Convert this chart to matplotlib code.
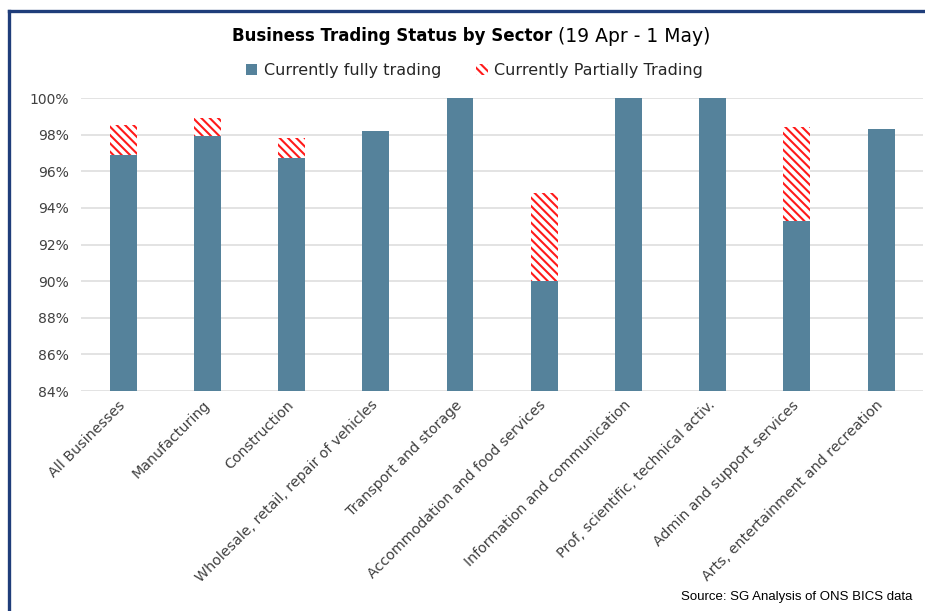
import matplotlib
matplotlib.use("Agg")
import matplotlib.pyplot as plt
import matplotlib.transforms as mtransforms
from matplotlib.patches import Patch
from matplotlib.lines import Line2D

# Sector shares of businesses trading, 19 Apr - 1 May
sectors = [
    "All Businesses",
    "Manufacturing",
    "Construction",
    "Wholesale, retail, repair of vehicles",
    "Transport and storage",
    "Accommodation and food services",
    "Information and communication",
    "Prof, scientific, technical activ.",
    "Admin and support services",
    "Arts, entertainment and recreation",
]
fully_trading = [96.9, 97.9, 96.7, 98.2, 100.0, 90.0, 100.0, 100.0, 93.3, 98.3]
partially_trading = [1.6, 1.0, 1.1, 0.0, 0.0, 4.8, 0.0, 0.0, 5.1, 0.0]
y_ticks = [84, 86, 88, 90, 92, 94, 96, 98, 100]

BLUE = "#55829B"
RED = "#FF1A1A"
NAVY = "#1F3D7A"

plt.rcParams["font.family"] = ["DejaVu Sans"]
plt.rcParams["hatch.linewidth"] = 1.5

fig = plt.figure(figsize=(9.25, 6.11), dpi=100)
ax = fig.add_axes([0.0876, 0.36, 0.9104, 0.4796])

x = list(range(len(sectors)))
ax.bar(x, fully_trading, width=0.32, color=BLUE, zorder=2)
ax.bar(x, partially_trading, bottom=fully_trading, width=0.32,
       facecolor="white", edgecolor=RED, hatch="\\\\\\\\", linewidth=0, zorder=2)

ax.set_xlim(-0.5, len(sectors) - 0.5)
ax.set_ylim(84, 100)
ax.set_yticks(y_ticks)
ax.set_yticklabels([f"{t}%" for t in y_ticks])
ax.grid(axis="y", color="#DEDEDE", linewidth=1.2, zorder=0)
ax.set_axisbelow(True)
for s in ax.spines.values():
    s.set_visible(False)
ax.tick_params(axis="y", length=0, pad=9, labelsize=10, labelcolor="#404040")
ax.tick_params(axis="x", length=0, pad=5, labelsize=10.3, labelcolor="#404040")
ax.set_xticks(x)
ax.set_xticklabels(sectors, rotation=45, ha="right", rotation_mode="anchor")
# nudge the slanted labels a little to the left
shift = mtransforms.ScaledTranslation(-5 / 100, 0, fig.dpi_scale_trans)
for lbl in ax.get_xticklabels():
    lbl.set_transform(lbl.get_transform() + shift)

# title: bold part then plain date range
fig.text(0.597, 0.941, "Business Trading Status by Sector", ha="right", va="center",
         fontsize=12, fontweight="bold", color="black")
fig.text(0.603, 0.941, "(19 Apr - 1 May)", ha="left", va="center",
         fontsize=13.5, color="black")

handles = [
    Patch(facecolor=BLUE, edgecolor="none"),
    Patch(facecolor="white", edgecolor=RED, hatch="\\\\\\\\", linewidth=0),
]
fig.legend(handles, ["Currently fully trading", "Currently Partially Trading"],
           loc="center", bbox_to_anchor=(0.513, 0.885), ncol=2, frameon=False,
           fontsize=11.5, handlelength=0.7, handleheight=0.7, handletextpad=0.4,
           columnspacing=2.2, labelcolor="#262626")

fig.text(0.986, 0.013, "Source: SG Analysis of ONS BICS data", ha="right", va="bottom",
         fontsize=9.5, family="Liberation Sans", color="black")

# frame on the left and top edges
fig.add_artist(Line2D([0.0092, 0.0092], [0.0, 0.982], color=NAVY, linewidth=2.4,
                      transform=fig.transFigure))
fig.add_artist(Line2D([0.0092, 1.0], [0.982, 0.982], color=NAVY, linewidth=2.4,
                      transform=fig.transFigure))

fig.savefig("out.png", dpi=100)
